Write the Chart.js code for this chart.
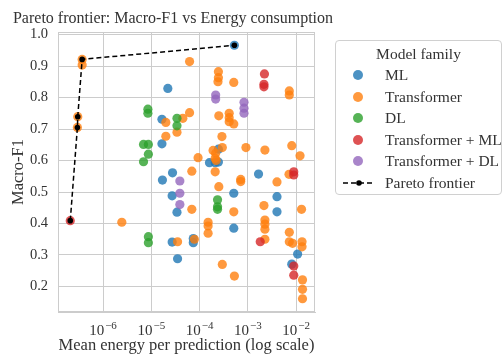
<!DOCTYPE html>
<html lang="en">
<head>
<meta charset="UTF-8">
<title>Pareto frontier: Macro-F1 vs Energy consumption</title>
<script src="https://cdn.jsdelivr.net/npm/chart.js"></script>
<style>
    body { margin: 0; background: #fff; font-family: 'Liberation Serif', serif; color: #333; }
    #wrap { position: relative; width: 504px; height: 356px; }
    #legend {
        position: absolute; left: 335px; top: 40px; width: 167px; height: 155px;
        box-sizing: border-box; border: 1px solid #d0d0d0; border-radius: 4px; background: #fff;
        font-size: 15.5px; color: #333;
    }
    #legend .title { position: absolute; top: 4px; left: 0; width: 100%; text-align: center; }
    #legend .item { position: absolute; left: 0; height: 20px; line-height: 20px; }
    #legend .mark { position: absolute; left: 17px; top: 5px; width: 10px; height: 10px; border-radius: 50%; }
    #legend .txt { position: absolute; left: 49px; white-space: nowrap; }
</style>
</head>
<body>
<div id="wrap">
    <canvas id="chart" width="504" height="356"></canvas>
    <div id="legend"></div>
</div>
<script>
// families
const familyNames = ['ML', 'Transformer', 'DL', 'Transformer + ML', 'Transformer + DL'];
const familyColors = ['rgba(31,119,180,0.8)', 'rgba(255,127,14,0.8)', 'rgba(44,160,44,0.8)', 'rgba(214,39,40,0.8)', 'rgba(148,103,189,0.8)'];

// mean energy per prediction (x) and Macro-F1 (y), per family
const mlEnergy = [5.25e-4, 2.2e-5, 1.66e-5, 1.66e-5, 2.75e-5, 2.45e-4, 1.6e-4, 2.1e-4, 2.45e-4, 1.66e-3, 1.7e-5, 5.1e-4, 4.0e-3, 4.0e-3, 2.7e-5, 3.4e-5, 5.1e-4, 2.7e-5, 7.4e-5, 7.4e-5, 3.5e-5, 1.07e-2, 8.1e-3];
const mlF1     = [0.966, 0.829, 0.731, 0.653, 0.561, 0.636, 0.593, 0.593, 0.595, 0.557, 0.538, 0.496, 0.485, 0.437, 0.488, 0.436, 0.385, 0.341, 0.352, 0.339, 0.288, 0.303, 0.271];

const trEnergy = [2.95e-7, 3.0e-7, 3.7e-7, 3.7e-7, 6.2e-5, 2.0e-5, 4.5e-5, 6.2e-5, 3.4e-5, 2.0e-5, 9.3e-5, 6.9e-5,
                  2.45e-4, 2.45e-4, 2.4e-4, 5.1e-4, 7.2e-3, 7.2e-3, 4.1e-4, 4.1e-4, 4.1e-4, 5.1e-4, 2.5e-4, 2.9e-4,
                  2.95e-4, 1.9e-4, 2.15e-4, 2.1e-4, 2.2e-4, 9.1e-4, 2.25e-3, 8.1e-3, 1.2e-2, 2.1e-4, 7.1e-3, 7.1e-4,
                  7.1e-4, 2.5e-4, 4.0e-3, 2.15e-3, 1.29e-2, 6.9e-5, 5.1e-4, 1.5e-4, 1.5e-4, 1.5e-4, 2.25e-3, 2.25e-3,
                  2.25e-3, 2.25e-3, 7.2e-3, 7.2e-3, 8.4e-3, 1.32e-2, 1.32e-2, 1.35e-2, 1.35e-2, 1.35e-2, 2.95e-4, 5.25e-4,
                  3.5e-5, 7.8e-5, 2.45e-6];
const trF1     = [0.705, 0.739, 0.921, 0.903, 0.914, 0.721, 0.734, 0.752, 0.690, 0.677, 0.609, 0.566,
                  0.882, 0.863, 0.850, 0.848, 0.821, 0.808, 0.750, 0.736, 0.723, 0.716, 0.742, 0.676,
                  0.641, 0.632, 0.623, 0.607, 0.600, 0.641, 0.633, 0.647, 0.615, 0.564, 0.556, 0.540,
                  0.533, 0.517, 0.532, 0.457, 0.445, 0.445, 0.437, 0.404, 0.392, 0.369, 0.411, 0.398,
                  0.382, 0.350, 0.372, 0.342, 0.337, 0.342, 0.326, 0.221, 0.191, 0.161, 0.270, 0.233,
                  0.342, 0.350, 0.404];

const dlEnergy = [8.5e-6, 8.5e-6, 3.4e-5, 3.4e-5, 6.9e-6, 8.7e-6, 8.7e-6, 6.9e-6, 2.35e-4, 2.35e-4, 2.35e-4, 8.7e-6, 8.7e-6];
const dlF1     = [0.763, 0.750, 0.734, 0.710, 0.651, 0.651, 0.620, 0.596, 0.475, 0.453, 0.445, 0.358, 0.339];

const tmlEnergy = [2.1e-7, 2.2e-3, 2.15e-3, 2.15e-3, 8.9e-3, 8.9e-3, 1.8e-3, 8.9e-3, 8.9e-3];
const tmlF1     = [0.409, 0.875, 0.842, 0.834, 0.564, 0.554, 0.342, 0.265, 0.236];

const tdlEnergy = [2.15e-4, 2.15e-4, 8.3e-4, 8.3e-4, 8.3e-4, 3.9e-5, 3.9e-5, 3.9e-5];
const tdlF1     = [0.808, 0.795, 0.785, 0.766, 0.750, 0.535, 0.496, 0.460];

// pareto frontier
const frontierEnergy = [2.1e-7, 2.95e-7, 3.0e-7, 3.7e-7, 5.25e-4];
const frontierF1     = [0.409, 0.705, 0.739, 0.921, 0.966];

// ticks
const xTickValues = [1e-6, 1e-5, 1e-4, 1e-3, 1e-2];
const xTickExponents = ['\u22126', '\u22125', '\u22124', '\u22123', '\u22122'];
const yTickValues = [0.2, 0.3, 0.4, 0.5, 0.6, 0.7, 0.8, 0.9, 1.0];

const seriesX = [mlEnergy, trEnergy, dlEnergy, tmlEnergy, tdlEnergy];
const seriesY = [mlF1, trF1, dlF1, tmlF1, tdlF1];

function toPoints(xs, ys) {
    return xs.map((x, i) => ({ x: x, y: ys[i] }));
}

const serif = 'Liberation Serif';
const textColor = '#333';

const datasets = [{
    label: 'Pareto frontier',
    data: toPoints(frontierEnergy, frontierF1),
    showLine: true,
    borderColor: '#000',
    borderWidth: 1.5,
    borderDash: [5, 3],
    pointRadius: 2.8,
    pointBackgroundColor: '#000',
    pointBorderWidth: 0,
    order: 0
}];
familyNames.forEach((name, i) => {
    datasets.push({
        label: name,
        data: toPoints(seriesX[i], seriesY[i]),
        backgroundColor: familyColors[i],
        borderWidth: 0,
        pointRadius: 4.6,
        order: 5 - i   // first family drawn at the bottom
    });
});

// title, top/right spines and 10^n tick labels
const framePlugin = {
    id: 'frame',
    beforeDatasetsDraw(chart) {
        const { ctx, chartArea: a } = chart;
        ctx.save();
        ctx.strokeStyle = '#cccccc';
        ctx.lineWidth = 1;
        ctx.strokeRect(a.left + 0.5, a.top + 0.5, a.right - a.left - 1, a.bottom - a.top - 1);
        ctx.restore();
    },
    afterDraw(chart) {
        const { ctx } = chart;
        const xs = chart.scales.x;
        ctx.save();
        ctx.fillStyle = textColor;
        ctx.font = '16px "' + serif + '"';
        ctx.textAlign = 'center';
        ctx.textBaseline = 'middle';
        ctx.fillText('Pareto frontier: Macro-F1 vs Energy consumption', 173, 19);

        ctx.textBaseline = 'alphabetic';
        ctx.textAlign = 'left';
        xTickValues.forEach((v, i) => {
            const px = xs.getPixelForValue(v);
            ctx.font = '15px "' + serif + '"';
            const baseW = ctx.measureText('10').width;
            ctx.font = '11px "' + serif + '"';
            const supW = ctx.measureText(xTickExponents[i]).width;
            const x0 = px - (baseW + supW + 1) / 2;
            ctx.font = '15px "' + serif + '"';
            ctx.fillText('10', x0, 335);
            ctx.font = '11px "' + serif + '"';
            ctx.fillText(xTickExponents[i], x0 + baseW + 1, 329);
        });
        ctx.restore();
    }
};

new Chart(document.getElementById('chart'), {
    type: 'scatter',
    data: { datasets: datasets },
    options: {
        responsive: false,
        animation: false,
        devicePixelRatio: 1,
        layout: { padding: { top: 32, right: 189, left: 0, bottom: 0 } },
        plugins: {
            legend: { display: false },
            tooltip: { enabled: false }
        },
        scales: {
            x: {
                type: 'logarithmic',
                min: 1.17e-7,
                max: 0.0245,
                afterBuildTicks: s => { s.ticks = xTickValues.map(v => ({ value: v })); },
                afterFit: s => { s.height = 44; },
                grid: { color: '#cccccc', drawTicks: false },
                border: { color: '#cccccc' },
                ticks: {
                    color: 'rgba(0,0,0,0)', padding: 8, maxRotation: 0,
                    font: { family: serif, size: 14 },
                    callback: v => '10^' + Math.round(Math.log10(v))
                },
                title: {
                    display: true, text: 'Mean energy per prediction (log scale)', color: textColor,
                    font: { family: serif, size: 16.5 }, padding: { top: 0, bottom: 0 }
                }
            },
            y: {
                min: 0.119,
                max: 1.008,
                afterBuildTicks: s => { s.ticks = yTickValues.map(v => ({ value: v })); },
                afterFit: s => { s.width = 58; },
                grid: { color: '#cccccc', drawTicks: false },
                border: { color: '#cccccc' },
                ticks: {
                    color: textColor, padding: 10,
                    font: { family: serif, size: 14.5 },
                    callback: v => v.toFixed(1)
                },
                title: {
                    display: true, text: 'Macro-F1', color: textColor,
                    font: { family: serif, size: 16.5 }, padding: { top: 9, bottom: 0 }
                }
            }
        }
    },
    plugins: [framePlugin]
});

// legend box
const legend = document.getElementById('legend');
legend.innerHTML = '<div class="title">Model family</div>';
familyNames.forEach((name, i) => {
    const row = document.createElement('div');
    row.className = 'item';
    row.style.top = (24 + i * 21.5) + 'px';
    row.innerHTML = '<span class="mark" style="background:' + familyColors[i] + '"></span><span class="txt">' + name + '</span>';
    legend.appendChild(row);
});
const fr = document.createElement('div');
fr.className = 'item';
fr.style.top = (24 + 5 * 21.5) + 'px';
fr.innerHTML = '<svg width="34" height="20" style="position:absolute;left:6px;top:0">' +
    '<line x1="1" y1="10" x2="33" y2="10" stroke="#000" stroke-width="1.5" stroke-dasharray="5,3"/>' +
    '<circle cx="17" cy="10" r="2.8" fill="#000"/></svg><span class="txt">Pareto frontier</span>';
legend.appendChild(fr);
</script>
</body>
</html>
